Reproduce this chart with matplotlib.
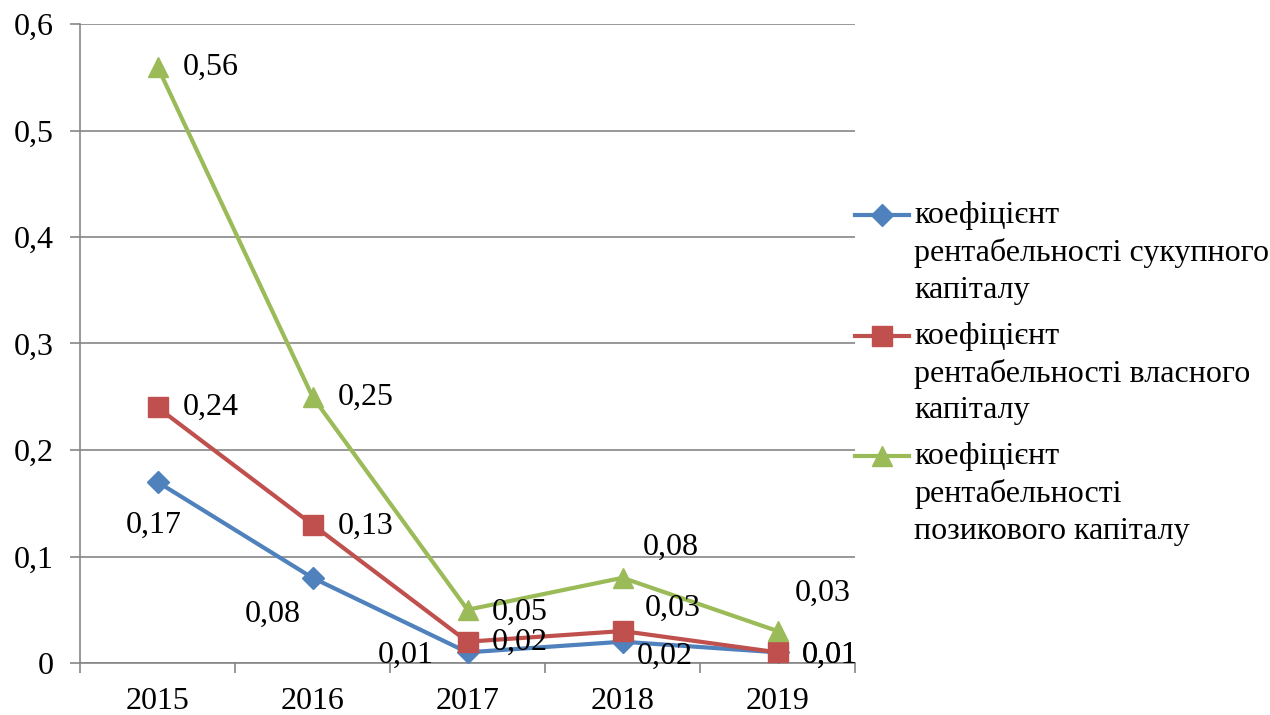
import numpy as np
import matplotlib.pyplot as plt

plt.rcParams['font.family'] = ['Liberation Serif', 'DejaVu Serif']

years = ['2015', '2016', '2017', '2018', '2019']
total_cap = [0.17, 0.08, 0.01, 0.02, 0.01]
own_cap = [0.24, 0.13, 0.02, 0.03, 0.01]
loan_cap = [0.56, 0.25, 0.05, 0.08, 0.03]
names = ['коефіцієнт\nрентабельності сукупного\nкапіталу',
         'коефіцієнт\nрентабельності власного\nкапіталу',
         'коефіцієнт\nрентабельності\nпозикового капіталу']

# label offsets in pixels (x right, y up)
off_total = [(-4, -43), (-40, -37), (-62, -3), (42, -15), (52, -3)]
off_own = [(53, 0), (53, -2), (52, -1), (50, 23), (52, -3)]
off_loan = [(53, -1), (53, -1), (52, -3), (48, 30), (45, 38)]

fs = 23
fig = plt.figure(figsize=(12.7, 7.15), dpi=100)
ax = fig.add_axes([80/1270, 1-663/715, 775/1270, 639/715])

x = np.arange(len(years))
series = [
    (total_cap, '#4F81BD', 'D', 11, off_total),
    (own_cap, '#C0504D', 's', 14, off_own),
    (loan_cap, '#9BBB59', '^', 15, off_loan),
]
for (vals, col, mk, ms, offs), name in zip(series, names):
    ax.plot(x, vals, color=col, lw=3, marker=mk, ms=ms, label=name, zorder=3)
    for xi, v, o in zip(x, vals, offs):
        ax.annotate(f'{v:.2f}'.replace('.', ','), (xi, v), xytext=o,
                    textcoords='offset pixels', ha='center', va='center',
                    fontsize=fs, zorder=4)

ax.set_xlim(-0.5, len(years) - 0.5)
ax.set_ylim(0, 0.6)
ax.set_yticks(np.arange(0, 0.61, 0.1))
ax.set_yticklabels(['0'] + [f'{v:.1f}'.replace('.', ',') for v in np.arange(0.1, 0.61, 0.1)])
ax.set_xticks(x)
ax.set_xticklabels(years)
ax.set_xticks(np.arange(-0.5, len(years), 1), minor=True)
ax.tick_params(axis='x', which='major', length=0, pad=17, labelsize=fs)
ax.tick_params(axis='x', which='minor', length=7, color='#868686', width=1.2)
ax.tick_params(axis='y', length=7, color='#868686', width=1.2, pad=12, labelsize=fs)
ax.grid(axis='y', color='#868686', lw=1.2)
ax.set_axisbelow(True)
for s in ['top', 'right']:
    ax.spines[s].set_visible(False)
for s in ['left', 'bottom']:
    ax.spines[s].set_color('#868686')
    ax.spines[s].set_linewidth(1.2)

leg = ax.legend(loc='center left', bbox_to_anchor=(1.0, 0.453), frameon=False,
                fontsize=fs, handlelength=1.7, handletextpad=0.15, borderaxespad=0,
                borderpad=0, labelspacing=0.52)
for t in leg.get_texts():
    t.set_linespacing(1.35)
# put the handle next to the first line of each label, like Excel does
for h in leg.legend_handles:
    h.set_ydata(np.asarray(h.get_ydata()) + 27)

fig.savefig('out.png', dpi=100)
